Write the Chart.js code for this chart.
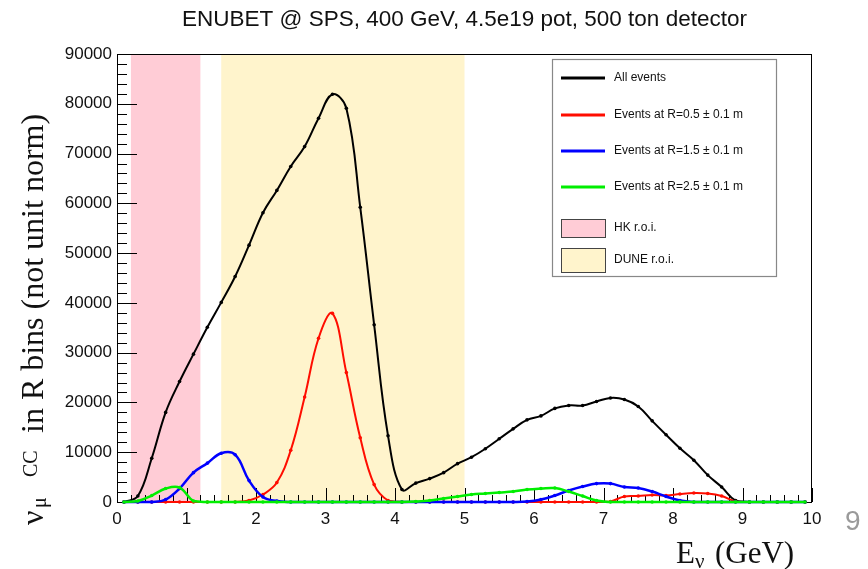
<!DOCTYPE html>
<html>
<head>
<meta charset="utf-8">
<script src="https://cdn.jsdelivr.net/npm/chart.js@4.4.0/dist/chart.umd.min.js"></script>
<style>
  body { margin: 0; background: #fff; }
  #wrap { width: 868px; height: 569px; }
</style>
</head>
<body>
<div id="wrap"><canvas id="chart" width="868" height="569"></canvas></div>
<script>
// bin centres (GeV), 0.2 GeV bins
const energies = [0.1, 0.3, 0.5, 0.7, 0.9, 1.1, 1.3, 1.5, 1.7, 1.9,
                  2.1, 2.3, 2.5, 2.7, 2.9, 3.1, 3.3, 3.5, 3.7, 3.9,
                  4.1, 4.3, 4.5, 4.7, 4.9, 5.1, 5.3, 5.5, 5.7, 5.9,
                  6.1, 6.3, 6.5, 6.7, 6.9, 7.1, 7.3, 7.5, 7.7, 7.9,
                  8.1, 8.3, 8.5, 8.7, 8.9, 9.1, 9.3, 9.5, 9.7, 9.9];

const allEvents = [0, 1200, 8800, 18000, 24200, 29700, 35100, 40100, 45300, 51600,
                   58100, 62600, 67400, 71400, 77100, 81900, 79100, 59200, 35600, 13300,
                   2500, 3800, 4700, 5900, 7700, 9000, 10700, 12700, 14700, 16500,
                   17300, 18800, 19400, 19400, 20200, 20900, 20600, 19200, 16300, 13500,
                   10800, 8400, 5400, 3000, 300, 0, 0, 0, 0, 0];

const eventsR05 = [0, 0, 0, 0, 0, 0, 0, 0, 0, 300,
                   1500, 3900, 10400, 21100, 32900, 37900, 26000, 12900, 3500, 300,
                   0, 0, 0, 0, 0, 0, 0, 0, 0, 0,
                   0, 0, 0, 0, 0, 100, 1100, 1200, 1400, 1300,
                   1600, 1800, 1700, 1200, 100, 0, 0, 0, 0, 0];

const eventsR15 = [0, 0, 0, 500, 2700, 5900, 7800, 9800, 9500, 4300,
                   1000, 200, 0, 0, 0, 0, 0, 0, 0, 0,
                   0, 0, 0, 0, 0, 0, 0, 0, 0, 100,
                   500, 1300, 2300, 3100, 3700, 3700, 3000, 2800, 2100, 1100,
                   300, 0, 0, 0, 0, 0, 0, 0, 0, 0];

const eventsR25 = [0, 200, 1300, 2700, 2900, 200, 0, 0, 0, 0,
                   0, 0, 0, 0, 0, 0, 0, 0, 0, 0,
                   0, 100, 300, 700, 1100, 1500, 1700, 1900, 2100, 2500,
                   2700, 2800, 2100, 1200, 300, 0, 0, 0, 0, 0,
                   0, 0, 0, 0, 0, 0, 0, 0, 0, 0];

const hkRoi = [0.2, 1.2];
const duneRoi = [1.5, 5.0];

const seriesNames = ['All events', 'Events at R=0.5 \u00b1 0.1 m',
                     'Events at R=1.5 \u00b1 0.1 m', 'Events at R=2.5 \u00b1 0.1 m'];
const roiNames = ['HK r.o.i.', 'DUNE r.o.i.'];
const titleText = 'ENUBET @ SPS, 400 GeV, 4.5e19 pot, 500 ton detector';

const lineColors = ['#000000', '#ff0d00', '#0000ff', '#00ee00'];
const hkColor = '#ffccd6';
const duneColor = '#fff4cc';

function pts(vals) {
    return energies.map((e, i) => ({x: e, y: vals[i]}));
}

function ds(label, vals, color, order, width) {
    return {
        label: label,
        data: pts(vals),
        borderColor: color,
        backgroundColor: color,
        borderWidth: width,
        pointRadius: 1.8,
        pointBorderWidth: 0,
        tension: 0.4,
        clip: false,
        order: order
    };
}

// bands, frame and inward ticks (ROOT style)
const framePlugin = {
    id: 'frame',
    beforeDatasetsDraw(chart) {
        const {ctx, chartArea: a, scales: {x, y}} = chart;
        ctx.save();
        ctx.fillStyle = hkColor;
        let x0 = x.getPixelForValue(hkRoi[0]), x1 = x.getPixelForValue(hkRoi[1]);
        ctx.fillRect(x0, a.top, x1 - x0, a.bottom - a.top);
        ctx.fillStyle = duneColor;
        x0 = x.getPixelForValue(duneRoi[0]); x1 = x.getPixelForValue(duneRoi[1]);
        ctx.fillRect(x0, a.top, x1 - x0, a.bottom - a.top);

        ctx.strokeStyle = '#000';
        ctx.lineWidth = 1;
        ctx.strokeRect(a.left + 0.5, a.top + 0.5, a.right - a.left - 1, a.bottom - a.top);
        ctx.beginPath();
        for (let v = 0; v <= y.max; v += 2000) {
            const py = Math.round(y.getPixelForValue(v)) + 0.5;
            const len = v % 10000 === 0 ? 20 : 10;
            ctx.moveTo(a.left, py);
            ctx.lineTo(a.left + len, py);
        }
        for (let i = 0; i <= 50; i++) {
            const px = Math.round(x.getPixelForValue(i * 0.2)) + 0.5;
            const len = i % 5 === 0 ? 14 : 7;
            ctx.moveTo(px, a.bottom);
            ctx.lineTo(px, a.bottom - len);
        }
        ctx.stroke();
        ctx.restore();
    },
    afterDraw(chart) {
        const {ctx, chartArea: a} = chart;
        ctx.save();
        ctx.fillStyle = '#111';
        ctx.textBaseline = 'alphabetic';

        // title
        ctx.font = '22.5px "Liberation Sans"';
        ctx.textAlign = 'center';
        ctx.fillText(titleText, (a.left + a.right) / 2, 26);
        ctx.textAlign = 'left';

        // y title
        ctx.save();
        ctx.translate(43, 525);
        ctx.rotate(-Math.PI / 2);
        ctx.font = '32px "Liberation Serif"';
        ctx.fillText('\u03bd', 0, 0);
        ctx.font = '20px "Liberation Serif"';
        ctx.fillText('\u03bc', 17, 3);
        ctx.fillText('CC', 48, -6);
        ctx.font = '32px "Liberation Serif"';
        ctx.fillText('in R bins (not unit norm)', 92, 0);
        ctx.restore();

        // x title
        ctx.font = '31px "Liberation Serif"';
        ctx.fillText('E', 676, 563);
        ctx.font = '21px "Liberation Serif"';
        ctx.fillText('\u03bd', 695, 568);
        ctx.font = '31px "Liberation Serif"';
        ctx.fillText('(GeV)', 715, 563);

        // slide page number
        ctx.fillStyle = '#9a9a9a';
        ctx.font = '28px "Liberation Sans"';
        ctx.fillText('9', 845, 530);

        // legend box
        ctx.fillStyle = '#fff';
        ctx.fillRect(552, 59, 224, 217);
        ctx.strokeStyle = '#888';
        ctx.lineWidth = 1.2;
        ctx.strokeRect(552.5, 59.5, 224, 217);
        ctx.font = '12px "Liberation Sans"';
        ctx.textBaseline = 'middle';
        const rows = [78, 115, 151, 187];
        seriesNames.forEach((name, i) => {
            ctx.strokeStyle = lineColors[i];
            ctx.lineWidth = 3;
            ctx.beginPath();
            ctx.moveTo(561, rows[i]);
            ctx.lineTo(605, rows[i]);
            ctx.stroke();
            ctx.fillStyle = '#111';
            ctx.fillText(name, 614, rows[i]);
        });
        const boxes = [[219, 18, hkColor], [248, 24, duneColor]];
        roiNames.forEach((name, i) => {
            const [top, h, col] = boxes[i];
            ctx.fillStyle = col;
            ctx.fillRect(561, top, 44, h);
            ctx.strokeStyle = '#444';
            ctx.lineWidth = 1;
            ctx.strokeRect(561.5, top + 0.5, 44, h);
            ctx.fillStyle = '#111';
            ctx.fillText(name, 614, top + h / 2);
        });
        ctx.restore();
    }
};

const ctx = document.getElementById('chart').getContext('2d');
const myChart = new Chart(ctx, {
    type: 'line',
    data: {
        datasets: [
            ds(seriesNames[0], allEvents, lineColors[0], 3, 2),
            ds(seriesNames[1], eventsR05, lineColors[1], 2, 2),
            ds(seriesNames[2], eventsR15, lineColors[2], 1, 2.5),
            ds(seriesNames[3], eventsR25, lineColors[3], 0, 2.5)
        ]
    },
    options: {
        responsive: false,
        animation: false,
        layout: {padding: {top: 54, right: 56, left: 0, bottom: 0}},
        plugins: {
            legend: {display: false},
            title: {display: false},
            tooltip: {enabled: false}
        },
        scales: {
            x: {
                type: 'linear',
                min: 0,
                max: 10,
                grid: {display: false, drawTicks: false},
                border: {display: false},
                ticks: {
                    stepSize: 1,
                    autoSkip: false,
                    maxRotation: 0,
                    padding: 7,
                    color: '#111',
                    font: {family: 'Liberation Sans', size: 17}
                },
                afterFit(scale) { scale.height = 67; }
            },
            y: {
                min: 0,
                max: 90000,
                grid: {display: false, drawTicks: false},
                border: {display: false},
                ticks: {
                    stepSize: 10000,
                    autoSkip: false,
                    padding: 5,
                    color: '#111',
                    font: {family: 'Liberation Sans', size: 17},
                    callback: v => String(v)
                },
                afterFit(scale) { scale.width = 117; }
            }
        }
    },
    plugins: [framePlugin]
});
</script>
</body>
</html>
